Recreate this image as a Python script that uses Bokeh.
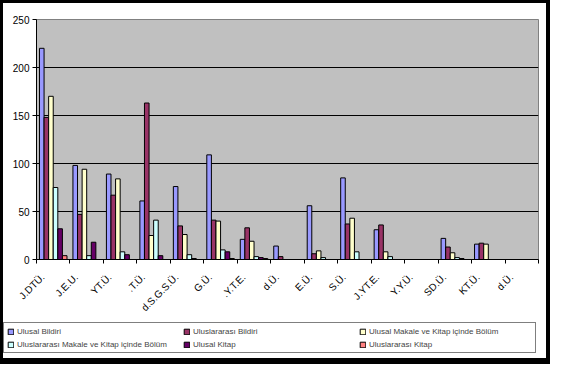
from bokeh.plotting import figure
from bokeh.layouts import column, row
from bokeh.models import FixedTicker, Legend, LegendItem
from bokeh.embed import file_html
from bokeh.resources import INLINE

categories = ["J.DTÜ.", "J.E.U.", "YT.Ü.", ".T.Ü.", "d.S.G.S.Ü.", "G.Ü.", ".Y.T.E.",
              "d.Ü.", "E.Ü.", "S.Ü.", "J.YT.E.", "Y.Y.Ü.", "SD.Ü.", "KT.Ü.", "d.Ü."]

series_names = ["Ulusal Bildiri", "Uluslararası Bildiri", "Ulusal Makale ve Kitap içinde Bölüm",
                "Uluslararası Makale ve Kitap içinde Bölüm", "Ulusal Kitap", "Uluslararası Kitap"]

ulusal_bildiri = [220, 98, 89, 61, 76, 109, 21, 14, 56, 85, 31, 0, 22, 16, 0]
uluslararasi_bildiri = [148, 47, 67, 163, 35, 41, 33, 3, 6, 37, 36, 0, 13, 17, 0]
ulusal_makale = [170, 94, 84, 25, 26, 40, 19, 0, 9, 43, 8, 0, 7, 16, 0]
uluslararasi_makale = [75, 4, 8, 41, 5, 10, 3, 0, 2, 8, 3, 0, 2, 0, 0]
ulusal_kitap = [32, 18, 5, 4, 1, 8, 2, 0, 0, 0, 0, 0, 1, 0, 0]
uluslararasi_kitap = [4, 0, 0, 0, 0, 1, 1, 0, 0, 0, 0, 0, 0, 0, 0]

series_values = [ulusal_bildiri, uluslararasi_bildiri, ulusal_makale,
                 uluslararasi_makale, ulusal_kitap, uluslararasi_kitap]
colors = ["#9999FF", "#993366", "#FFFFCC", "#CCFFFF", "#660066", "#FF8080"]

y_ticks = [0, 50, 100, 150, 200, 250]

FONT = "Liberation Sans"

p = figure(width=543, height=317, output_backend="svg", toolbar_location=None,
           x_range=(0, len(categories)), y_range=(0, 250),
           min_border_left=33, min_border_right=8, min_border_top=16, min_border_bottom=60)
p.border_fill_color = "white"
p.background_fill_color = "#C0C0C0"
p.outline_line_color = "#808080"
p.outline_line_width = 1

bw = 0.137
bar_x = []
for k, (name, vals, col) in enumerate(zip(series_names, series_values, colors)):
    xs = [i + 0.5 + (k - 2.5) * bw for i in range(len(categories))]
    bar_x.append(xs)
    p.vbar(x=xs, top=vals, bottom=0, width=bw, fill_color=col,
           line_color="black", line_width=1)

# grid
p.xgrid.visible = False
p.ygrid.ticker = FixedTicker(ticks=[50, 100, 150, 200])
p.ygrid.grid_line_color = "black"
p.ygrid.grid_line_width = 1

# y axis
p.yaxis.ticker = FixedTicker(ticks=y_ticks, minor_ticks=[])
p.yaxis.major_tick_in = 0
p.yaxis.major_tick_out = 4
p.yaxis.major_tick_line_color = "black"
p.yaxis.axis_line_color = "black"
p.yaxis.major_label_text_font = FONT
p.yaxis.major_label_text_font_size = "10px"
p.yaxis.major_label_text_color = "black"
p.yaxis.major_label_standoff = 3

# x axis
shift = 0.19
label_pos = [round(i + shift, 2) for i in range(len(categories))]
p.xaxis.ticker = FixedTicker(ticks=label_pos, minor_ticks=list(range(len(categories) + 1)))
p.xaxis.major_label_overrides = {pos: lab for pos, lab in zip(label_pos, categories)}
p.xaxis.major_tick_line_color = None
p.xaxis.major_tick_in = 0
p.xaxis.major_tick_out = 0
p.xaxis.minor_tick_in = 0
p.xaxis.minor_tick_out = 4
p.xaxis.minor_tick_line_color = "black"
p.xaxis.axis_line_color = "black"
p.xaxis.major_label_orientation = 0.785398
p.xaxis.major_label_text_font = FONT
p.xaxis.major_label_text_font_size = "10px"
p.xaxis.major_label_text_color = "black"
p.xaxis.major_label_standoff = 12

# legend strip (hidden copies of the series only feed the legend swatches)
pl = figure(width=543, height=38, output_backend="svg", toolbar_location=None,
            x_range=(0, 1), y_range=(0, 1), min_border=0,
            x_axis_location=None, y_axis_location=None)
pl.border_fill_color = "white"
pl.background_fill_color = "white"
pl.outline_line_color = None
pl.xgrid.visible = False
pl.ygrid.visible = False
items = []
for name, vals, col, xs in zip(series_names, series_values, colors, bar_x):
    r = pl.vbar(x=xs, top=vals, bottom=0, width=bw, fill_color=col,
                line_color="black", line_width=1, visible=False)
    items.append(LegendItem(label=name, renderers=[r]))

legend = Legend(items=items, location=(0, 5), ncols=3, orientation="horizontal",
                glyph_width=7, glyph_height=7, label_standoff=3, label_width=163,
                label_height=10, spacing=3, padding=3, margin=0,
                label_text_font=FONT, label_text_font_size="8px",
                border_line_color="black", border_line_width=1,
                background_fill_color="white", background_fill_alpha=1,
                inactive_fill_alpha=0, click_policy="none")
pl.add_layout(legend, "center")

layout = column(p, row(pl), spacing=0,
                styles={"border-style": "solid", "border-color": "black",
                        "border-width": "3px 4px 6px 3px", "background": "white"})

open("out.html", "w").write(file_html(layout, INLINE))
